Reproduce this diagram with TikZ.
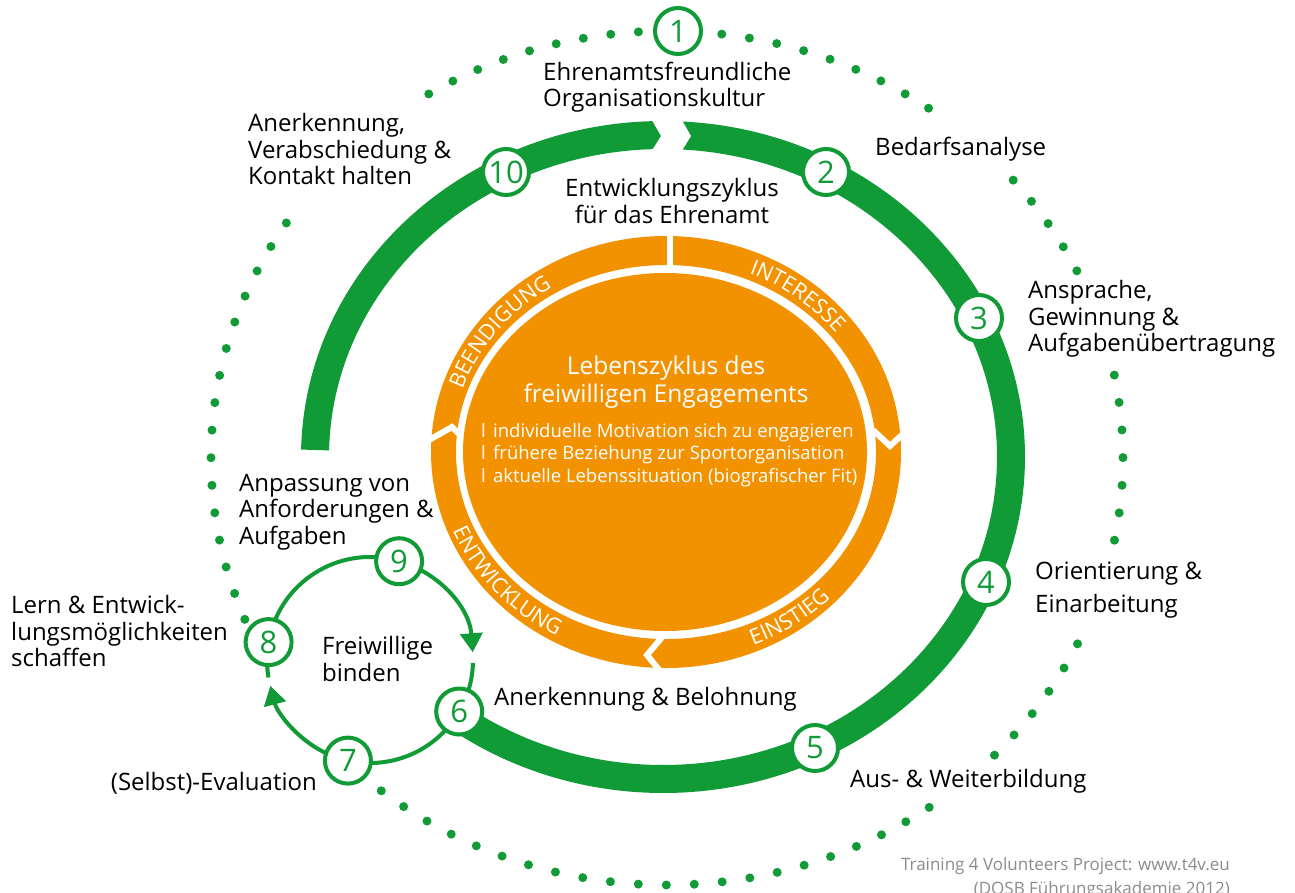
\documentclass[tikz,border=0pt]{standalone}
\usepackage{fontspec}
\setmainfont{Open Sans}
\usetikzlibrary{arrows.meta,decorations.text}
\definecolor{gr}{RGB}{16,155,55}
\definecolor{orng}{RGB}{243,146,0}
\definecolor{credgray}{RGB}{140,140,140}
\newcommand\lblfont{\fontsize{24}{26.5}\selectfont}
\newcommand\numfont{\fontsize{31}{31}\selectfont}
\newcommand\ringfont{\fontsize{21.5}{21.5}\selectfont}
\newcommand\bulfont{\fontsize{18.5}{22.5}\selectfont}
\newcommand\credfont{\fontsize{17}{24}\selectfont}
\newcommand\ctfont{\fontsize{24.5}{28}\selectfont}
\newcommand\dotarc[3]{%
  \foreach \i in {0,...,#3}{%
    \pgfmathsetmacro\dT{#1+(#2-#1)*\i/#3}%
    \fill[gr] ({667+456*cos(\dT)},{458-427*sin(\dT)}) circle[radius=4.5];}}
\begin{document}
\begin{tikzpicture}[x=1pt,y=-1pt,
  numnode/.style={circle, draw=gr, line width=4pt, fill=white, minimum size=46pt, inner sep=0pt, font=\numfont, text=gr},
  lbl/.style={font=\lblfont, align=left, inner sep=0pt, text=black},
  smallarc/.style={draw=gr, line width=4pt},
  tip/.style={-{Triangle[width=22pt,length=19pt]}},
  chev/.style={draw=white, line width=6pt, line join=miter},
  ringtext/.style={decorate, decoration={text along path, text color=white, text align=center}}
]
\useasboundingbox (0,0) rectangle (1295,892);
\clip (0,0) rectangle (1295,892);
\fill[white] (0,0) rectangle (1295,892);

% positions of the numbered circles
\coordinate (c1) at (678,31);
\coordinate (c2) at (826,172);
\coordinate (c3) at (979,318);
\coordinate (c4) at (986,582);
\coordinate (c5) at (815,748);
\coordinate (c6) at (459.2,711.5);
\coordinate (c7) at (347.9,760.6);
\coordinate (c8) at (268.6,642.1);
\coordinate (c9) at (399.1,561.2);
\coordinate (c10) at (506,172);

% dotted outer ring
\dotarc{83.1}{55}{8}
\dotarc{93.6}{121.5}{8}
\dotarc{40.6}{26}{4}
\dotarc{11.2}{-11.1}{6}
\dotarc{-25.8}{-44.1}{5}
\dotarc{-54.9}{-128.8}{21}
\dotarc{202.2}{146.6}{15}

% thick green development cycle
\coordinate (gl) at ({663+348*cos(-178.75)},{457+322*sin(-178.75)});
\draw[gr, line width=28pt] (gl) arc[start angle=-178.75, end angle=126, x radius=348, y radius=322] -- (c6);
\fill[white] (649,115) -- (661,136) -- (648,157) -- (678,157) -- (691,136) -- (679,115) -- cycle;

% orange ring and disc
\fill[orng, even odd rule] (666,452) ellipse[x radius=235, y radius=216] (666,452) ellipse[x radius=210, y radius=187];
\fill[orng] (665,452) ellipse[x radius=202, y radius=179];
\draw[chev] (873,430) -- (890,446) -- (905,432);
\draw[chev] (663,636) -- (647,655) -- (660,671);
\draw[chev] (429,440) -- (452,427) -- (459,434);
\draw[white, line width=6pt] (670,232) -- (670,268);

% ring labels
\path[ringtext, decoration={text={|\ringfont|INTERESSE}}]
  ({666+215*cos(-82)},{452+194*sin(-82)}) arc[start angle=-82, end angle=-22, x radius=215, y radius=194];
\path[ringtext, decoration={text={|\ringfont|BEENDIGUNG}}]
  ({666+215*cos(-172)},{452+194*sin(-172)}) arc[start angle=-172, end angle=-112, x radius=215, y radius=194];
\path[ringtext, decoration={text={|\ringfont|ENTWICKLUNG}}]
  ({666+230*cos(168.5)},{452+209*sin(168.5)}) arc[start angle=168.5, end angle=108.5, x radius=230, y radius=209];
\path[ringtext, decoration={text={|\ringfont|EINSTIEG}}]
  ({666+230*cos(85.5)},{452+209*sin(85.5)}) arc[start angle=85.5, end angle=25.5, x radius=230, y radius=209];

% small cycle
\coordinate (sb) at (472.96,662.9);
\coordinate (sd) at (268.5,677.5);
\draw[smallarc, tip] (c8) arc[start angle=-170, end angle=-4.3, radius=103];
\draw[smallarc] (sb) arc[start angle=1.6, end angle=30, radius=103];
\draw[smallarc, tip] (c6) arc[start angle=30, end angle=165.5, radius=103];
\draw[smallarc] (sd) arc[start angle=170.2, end angle=190, radius=103];

% numbered circles
\node[numnode] (n1) at (c1) {1};
\node[numnode] (n2) at (c2) {2};
\node[numnode] (n3) at (c3) {3};
\node[numnode] (n4) at (c4) {4};
\node[numnode] (n5) at (c5) {5};
\node[numnode] (n6) at (c6) {6};
\node[numnode] (n7) at (c7) {7};
\node[numnode] (n8) at (c8) {8};
\node[numnode] (n9) at (c9) {9};
\node[numnode] (n10) at (c10) {10};

% labels
\node[lbl, anchor=west] (l1) at (543,87) {Ehrenamtsfreundliche\\Organisationskultur};
\node[lbl, anchor=west] (l2) at (875,149) {Bedarfsanalyse};
\node[lbl, anchor=west] (l10) at (248,149) {Anerkennung,\\Verabschiedung \&\\Kontakt halten};
\node[lbl, align=center] (lz) at (672,201) {Entwicklungszyklus\\für das Ehrenamt};
\node[lbl, anchor=west] (l3) at (1028,319) {Ansprache,\\Gewinnung \&\\Aufgabenübertragung};
\node[lbl, anchor=west, font=\fontsize{24}{33}\selectfont] (l4) at (1035,590) {Orientierung \&\\Einarbeitung};
\node[lbl, anchor=west] (l5) at (850,781) {Aus- \& Weiterbildung};
\node[lbl, anchor=west] (l6) at (494,699) {Anerkennung \& Belohnung};
\node[lbl, anchor=west] (lfb) at (322,659) {Freiwillige\\binden};
\node[lbl, anchor=east] (l7) at (317,783) {(Selbst)-Evaluation};
\node[lbl, anchor=west] (l8) at (11,631) {Lern \& Entwick-\\lungsmöglichkeiten\\schaffen};
\node[lbl, anchor=west] (l9) at (239,512) {Anpassung von\\Anforderungen \&\\Aufgaben};
\node[align=center, inner sep=0pt, text=white, font=\ctfont] (ct) at (666,382) {Lebenszyklus des\\freiwilligen Engagements};
\node[align=left, inner sep=0pt, text=white, font=\bulfont, anchor=west] (bl) at (481,455)
  {\makebox[12pt][l]{l}individuelle Motivation sich zu engagieren\\\makebox[12pt][l]{l}frühere Beziehung zur Sportorganisation\\\makebox[12pt][l]{l}aktuelle Lebenssituation (biografischer Fit)};
\node[align=right, inner sep=0pt, text=credgray, font=\credfont, anchor=north east] (cr) at (1230,857)
  {Training 4 Volunteers Project: www.t4v.eu\\(DOSB Führungsakademie 2012)};
\end{tikzpicture}
\end{document}
